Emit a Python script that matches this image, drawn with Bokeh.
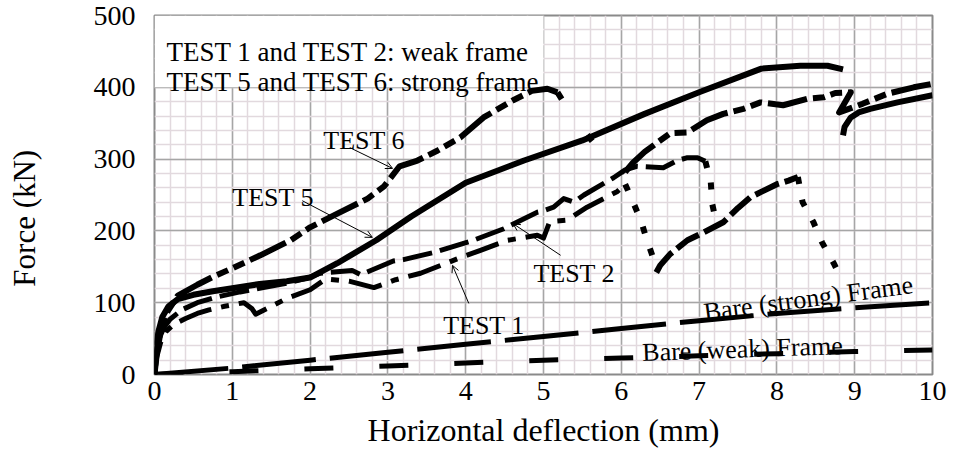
import math
from bokeh.plotting import figure
from bokeh.models import Range1d, SingleIntervalTicker, Label, Arrow, OpenHead, BoxAnnotation
from bokeh.embed import file_html
from bokeh.resources import INLINE

# ---------------- data ----------------
test5_x = [0.0, 0.02, 0.05, 0.1, 0.18, 0.3, 0.5, 0.75, 1.0, 1.35, 1.7, 2.0, 2.35, 2.85, 3.3, 4.0, 4.75, 5.5, 6.3, 7.0, 7.8, 8.3, 8.65, 8.85]
test5_y = [0, 35, 60, 80, 95, 105, 111, 116, 120, 126, 130, 135, 155, 187, 220, 267, 298, 326, 363, 393, 426, 430, 430, 425]
test5_reload_x = [8.85, 8.87, 8.95, 9.05, 9.2, 9.55, 10.0]
test5_reload_y = [333, 345, 358, 365, 370, 379, 389]

test6_x = [0.0, 0.03, 0.08, 0.15, 0.3, 0.55, 0.75, 1.0, 1.36, 1.75, 2.0, 2.35, 2.74, 2.95, 3.15, 3.38, 3.64, 3.93, 4.23, 4.61, 4.85, 5.05, 5.18]
test6_y = [0, 30, 60, 85, 110, 125, 136, 148, 166, 187, 205, 224, 245, 262, 290, 298, 312, 330, 358, 382, 395, 398, 393]
test6_drop_x = [5.18, 5.35, 5.77, 6.05]
test6_drop_y = [393, 363, 305, 282]
test6_reload_x = [6.05, 6.15, 6.3, 6.45, 6.63, 6.85, 7.1, 7.31, 7.57, 7.79, 8.08, 8.39, 8.6, 8.75, 8.95, 8.8, 9.1, 9.42, 9.76, 10.0]
test6_reload_y = [282, 295, 310, 322, 336, 337, 354, 363, 370, 379, 375, 384, 386, 392, 393, 365, 377, 391, 400, 405]

test2_x = [0.0, 0.02, 0.06, 0.12, 0.2, 0.35, 0.55, 0.8, 1.1, 1.4, 1.7, 1.95, 2.13, 2.54, 2.65, 3.07, 3.2, 3.59, 4.1, 4.49, 4.92, 5.0, 5.13, 5.26, 5.39, 5.52, 5.9, 6.05, 6.2, 6.54, 6.72, 6.85, 6.98, 7.08]
test2_y = [0, 30, 50, 65, 77, 90, 100, 108, 115, 121, 127, 134, 141, 145, 139, 158, 160, 170, 187, 203, 226, 228, 233, 245, 240, 250, 274, 285, 290, 288, 298, 302, 302, 297]
test2_drop_x = [7.08, 7.15, 7.17, 7.22]
test2_drop_y = [297, 268, 237, 212]

test1_x = [0.0, 0.03, 0.08, 0.15, 0.25, 0.4, 0.55, 0.7, 0.9, 1.15, 1.25, 1.3, 1.45, 1.7, 2.0, 2.2, 2.5, 2.82, 3.1, 3.42, 3.89, 4.19, 4.54, 4.92, 5.0, 5.08, 5.3, 5.56, 5.95, 6.05]
test1_y = [0, 25, 45, 60, 70, 78, 85, 90, 95, 100, 92, 84, 92, 106, 118, 133, 130, 121, 132, 141, 161, 173, 187, 194, 190, 213, 215, 233, 255, 265]
test1_drop_x = [6.05, 6.12, 6.25, 6.33, 6.45]
test1_drop_y = [265, 248, 215, 187, 150]
test1_reload_x = [6.45, 6.5, 6.63, 6.85, 7.06, 7.31, 7.5, 7.66, 8.0, 8.15, 8.27]
test1_reload_y = [142, 152, 168, 187, 198, 212, 232, 247, 265, 270, 275]
test1_drop2_x = [8.27, 8.33, 8.47, 8.58, 8.73, 8.8]
test1_drop2_y = [275, 240, 212, 184, 155, 140]

bare_strong_x = [0, 1, 2, 3, 4, 5, 6, 7, 8, 9, 10]
bare_strong_y = [0, 9, 20, 31, 42, 53, 64, 75, 85, 93, 100]
bare_weak_x = [0, 1, 2, 3, 4, 5, 6, 7, 8, 9, 10]
bare_weak_y = [0, 4, 8, 12, 16, 20, 23, 26, 29, 32, 34]

x_title = "Horizontal deflection (mm)"
y_title = "Force (kN)"
box_lines = ["TEST 1 and TEST 2: weak frame", "TEST 5 and TEST 6: strong frame"]

# ---------------- figure ----------------
FONT = "Liberation Serif"
p = figure(frame_width=778, frame_height=359, output_backend="svg", toolbar_location=None,
           x_range=Range1d(0, 10), y_range=Range1d(0, 500),
           min_border_left=154, min_border_right=18, min_border_top=15, min_border_bottom=78)
p.background_fill_color = "white"
p.border_fill_color = "white"
p.outline_line_color = "#8a8a8a"
p.outline_line_width = 2

xt = SingleIntervalTicker(interval=1, num_minor_ticks=5)
yt = SingleIntervalTicker(interval=100, num_minor_ticks=5)
p.xaxis.ticker = xt
p.yaxis.ticker = yt
p.xgrid.ticker = xt
p.ygrid.ticker = yt
for g in (p.xgrid, p.ygrid):
    g.grid_line_color = "#a6a6a6"
    g.grid_line_width = 1.5
    g.minor_grid_line_color = "#e2d9de"
    g.minor_grid_line_width = 1.5

for ax in (p.xaxis, p.yaxis):
    ax.axis_line_color = None
    ax.major_tick_line_color = None
    ax.minor_tick_line_color = None
    ax.major_tick_out = 0
    ax.major_tick_in = 0
    ax.minor_tick_out = 0
    ax.minor_tick_in = 0
    ax.major_label_text_font = FONT
    ax.major_label_text_font_size = "28px"
    ax.major_label_text_color = "black"
    ax.axis_label_text_font = FONT
    ax.axis_label_text_font_style = "normal"
    ax.axis_label_text_color = "black"
p.xaxis.major_label_standoff = 7
p.yaxis.major_label_standoff = 19

p.xaxis.axis_label = x_title
p.xaxis.axis_label_text_font_size = "32px"
p.xaxis.axis_label_standoff = 9
# trailing no-break spaces push the centred title down to where the reference has it
p.yaxis.axis_label = y_title + "\u00a0" * 6
p.yaxis.axis_label_text_font_size = "31px"
p.yaxis.axis_label_standoff = 49

# white text box in upper-left corner
p.add_layout(BoxAnnotation(left=0, right=5, bottom=400, top=500, fill_color="white",
                           fill_alpha=1, line_color=None, level="underlay"))

# ---------------- curves ----------------
K = "black"
p.line(bare_strong_x, bare_strong_y, line_color=K, line_width=5, line_dash="74 14")
p.line(bare_weak_x, bare_weak_y, line_color=K, line_width=5, line_dash="29 46")

p.line(test1_x, test1_y, line_color=K, line_width=5, line_dash="34 10 8 10", line_join="round")
p.line(test1_drop_x, test1_drop_y, line_color=K, line_width=6, line_dash="7 16")
p.line(test1_reload_x, test1_reload_y, line_color=K, line_width=6, line_dash="26 6", line_join="round")
p.line(test1_drop2_x, test1_drop2_y, line_color=K, line_width=6, line_dash="7 16")

p.line(test2_x, test2_y, line_color=K, line_width=5, line_dash="30 8", line_join="round")
p.line(test2_drop_x, test2_drop_y, line_color=K, line_width=6, line_dash="7 15")

p.line(test6_x, test6_y, line_color=K, line_width=6, line_dash="40 6 12 6 12 6", line_join="round")
p.line(test6_drop_x, test6_drop_y, line_color=K, line_width=6, line_dash="8 44")
p.line(test6_reload_x, test6_reload_y, line_color=K, line_width=6, line_dash="40 6 12 6 12 6", line_join="round")

p.line(test5_x, test5_y, line_color=K, line_width=6, line_join="round")
p.line(test5_reload_x, test5_reload_y, line_color=K, line_width=6, line_join="round")

# ---------------- annotations ----------------
def lab(x, y, text, size, angle=0.0, align="left"):
    p.add_layout(Label(x=x, y=y, text=text, text_font=FONT, text_font_size=size,
                       text_color="black", text_baseline="alphabetic", text_align=align,
                       angle=angle))

lab(0.154, 448.5, box_lines[0], "27px")
lab(0.154, 406.7, box_lines[1], "27px")
lab(2.17, 326, "TEST 6", "26px")
lab(1.0, 246.5, "TEST 5", "26px")
lab(4.87, 140.7, "TEST 2", "26px")
lab(3.71, 68, "TEST 1", "26px")
lab(7.06, 86.4, "Bare (strong) Frame", "26px", angle=math.radians(7.6))
lab(6.27, 30.6, "Bare (weak) Frame", "26px", angle=math.radians(2.0))

for xs, ys, xe, ye in [(2.51, 316, 3.06, 287), (1.90, 242, 2.80, 191),
                       (5.22, 166, 4.61, 210), (4.04, 99, 3.83, 152)]:
    p.add_layout(Arrow(end=OpenHead(size=7, line_width=1, line_color=K),
                       x_start=xs, y_start=ys, x_end=xe, y_end=ye,
                       line_width=1, line_color=K))

open("out.html", "w").write(file_html(p, INLINE))
